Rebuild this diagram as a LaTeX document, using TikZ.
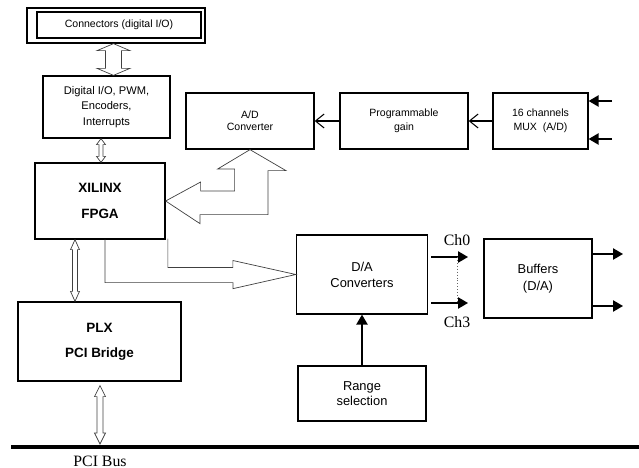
\documentclass[tikz,border=0pt]{standalone}
\usepackage{fontspec}
\setmainfont{Liberation Serif}
\setsansfont{Liberation Sans}
\usetikzlibrary{arrows.meta,calc}

\newcommand{\fsz}[2]{\fontsize{#1}{#2}\selectfont}
% hollow two-headed bus arrow: top end, bottom end, head half width, shaft half width, head length
\newcommand{\busarrow}[5]{%
  \draw[hollow] (#1) -- ++(#3,#5) -- ++({#4-#3},0) -- ($(#2)+(#4,-#5)$)
    -- ++({#3-#4},0) -- (#2) -- ++(-#3,-#5) -- ++({#3-#4},0)
    -- ($(#1)+(-#4,#5)$) -- ++({#4-#3},0) -- cycle;}

\begin{document}
\begin{tikzpicture}[x=0.3mm,y=-0.3mm,
    box/.style n args={2}{draw,line width=1.1pt,minimum width=#1*0.3mm,minimum height=#2*0.3mm,
      inner sep=0pt,align=center,font=\sffamily\fsz{9}{12}},
    hollow/.style={draw=black!75,line width=0.6pt},
    sig/.style={line width=1.2pt,-{Triangle[length=3mm,width=3.4mm]}},
    barb/.style={line width=1.1pt,-{Straight Barb[length=2.6mm,width=4.2mm,line width=0.9pt]}},
    lbl/.style={font=\fsz{13.5}{15}}]
    \useasboundingbox (0,0) rectangle (639,468);

    % blocks
    \node[box={178}{35}] (connframe) at (116,25.5) {};
    \node[box={164}{26}] (conn) at (119,25) {Connectors (digital I/O)};
    \node[box={127}{62},font=\sffamily\fsz{9.5}{13.5}] (dio) at (106.5,107) {Digital I/O, PWM,\\Encoders,\\Interrupts};
    \node[box={130}{76},font=\sffamily\bfseries\fsz{11.5}{22}] (fpga) at (100,201) {XILINX\\FPGA};
    \node[box={163}{79},font=\sffamily\bfseries\fsz{11.5}{21}] (plx) at (99.5,341.5) {PLX\\PCI Bridge};
    \node[box={128}{56},font=\sffamily\fsz{9}{10.5}] (adc) at (250,121) {A/D\\Converter};
    \node[box={128}{56}] (pga) at (404,121) {Programmable\\gain};
    \node[box={95}{56}] (mux) at (540.5,121) {16 channels\\MUX\ \ (A/D)};
    \node[box={131}{79},font=\sffamily\fsz{11}{13.5}] (dac) at (362,274.5) {D/A\\Converters};
    \node[box={108}{79},font=\sffamily\fsz{11}{15}] (buf) at (538,278.5) {Buffers\\(D/A)};
    \node[box={128}{55},font=\sffamily\fsz{11}{13}] (range) at (362,393.5) {Range\\selection};

    % labels
    \node[lbl] (ch0) at (457,240) {Ch0};
    \node[lbl] (ch3) at (457,322) {Ch3};
    \node[lbl] (pcibus) at (100,461) {PCI Bus};

    % PCI bus
    \coordinate (busL) at (11,447);
    \coordinate (busR) at (639,447);
    \draw[line width=2.8pt] (busL) -- (busR);

    % analog input chain
    \draw[barb] (pga.west) -- (adc.east);
    \draw[barb] (mux.west) -- (pga.east);
    \coordinate (in1) at (612,101);
    \coordinate (in2) at (612,139);
    \draw[sig] (in1) -- (in1 -| mux.east);
    \draw[sig] (in2) -- (in2 -| mux.east);

    % analog outputs
    \coordinate (ch0e) at (468,257);
    \coordinate (ch3e) at (468,303);
    \draw[sig] ($(ch0e -| dac.east)+(3,0)$) -- (ch0e);
    \draw[sig] ($(ch3e -| dac.east)+(3,0)$) -- (ch3e);
    \draw[dotted,black!60,line width=0.5pt] (ch0 |- ch0e) -- (ch3 |- ch3e);
    \coordinate (out1) at (623,254);
    \coordinate (out2) at (623,306);
    \draw[sig] (out1 -| buf.east) -- (out1);
    \draw[sig] (out2 -| buf.east) -- (out2);
    \draw[sig] (range.north) -- (dac.south);

    % bus arrows
    \coordinate (b1t) at ($(connframe.south)+(-2.5,0)$);
    \coordinate (b1b) at ($(dio.north)+(7,0)$);
    \busarrow{b1t}{b1b}{16.5}{8}{7}
    \coordinate (b2t) at ($(dio.south)+(-5.5,0)$);
    \coordinate (b2b) at ($(fpga.north)+(1,0)$);
    \busarrow{b2t}{b2b}{4.5}{2}{6}
    \coordinate (b3t) at ($(fpga.south)+(-25,0)$);
    \coordinate (b3b) at ($(plx.north)+(-24.5,0)$);
    \busarrow{b3t}{b3b}{4.5}{2.5}{10}
    \coordinate (b4t) at ($(plx.south)+(0.5,4)$);
    \coordinate (b4b) at ($(plx.south |- busL)+(0.5,-3)$);
    \busarrow{b4t}{b4b}{5.5}{3}{11}

    % FPGA <-> A/D
    \draw[hollow] (fpga.east) -- ++(35,-19) -- ++(0,9) -- ++(34,0) -- ++(0,-22) -- ++(-17,0)
      -- (adc.south) -- ++(36,21) -- ++(-18,0) -- ++(0,44) -- ++(-68,0) -- ++(0,9) -- cycle;
    % FPGA -> D/A
    \draw[hollow] ($(fpga.south)+(5,0)$) -- ++(0,43) -- ++(128,0) -- ++(0,6) -- (dac.west)
      -- ++(-63,-14) -- ++(0,7) -- ++(-65,0) -- ++(0,-29);
\end{tikzpicture}
\end{document}
